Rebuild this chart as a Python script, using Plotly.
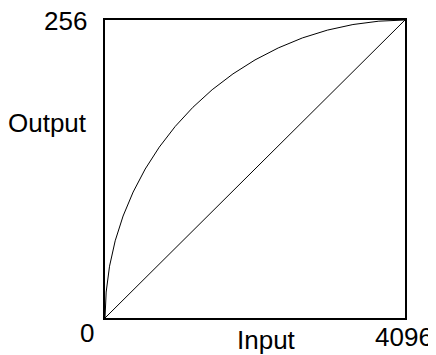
import plotly.graph_objects as go

# diagonal (identity) line
linear_in = [0, 4096]
linear_out = [0, 256]

# curved transfer function
curve_in = [0, 16, 62, 139, 247, 384, 549, 741, 959, 1200, 1463, 1747, 2048,
            2365, 2695, 3036, 3385, 3739, 4096]
curve_out = [0, 22.3, 44.5, 66.3, 87.6, 108.2, 128.0, 146.8, 164.6, 181.0, 196.1,
             209.7, 221.7, 232.0, 240.6, 247.3, 252.1, 255.0, 256]

FONT = "Liberation Sans, Arial, sans-serif"

fig = go.Figure()

fig.add_trace(go.Scatter(x=linear_in, y=linear_out, mode="lines",
                         line=dict(color="black", width=1)))
fig.add_trace(go.Scatter(x=curve_in, y=curve_out, mode="lines",
                         line=dict(color="black", width=1)))

# corner / axis labels
labels = [
    ("256", -0.053, 0.997, "right"),
    ("Output", -0.053, 0.653, "right"),
    ("0", -0.06, -0.05, "center"),
    ("Input", 0.537, -0.073, "center"),
    ("4096", 0.995, -0.063, "center"),
]
for text, x, y, anchor in labels:
    fig.add_annotation(text=text, x=x, y=y, xref="paper", yref="paper",
                       xanchor=anchor, yanchor="middle", showarrow=False,
                       font=dict(family=FONT, size=26, color="black"))

axis = dict(showline=True, mirror=True, linecolor="black", linewidth=2,
            showgrid=False, zeroline=False, showticklabels=False, ticks="")
fig.update_xaxes(range=[0, 4096], **axis)
fig.update_yaxes(range=[0, 256], **axis)

# page body adds an 8px margin, so the figure is shrunk by that much
fig.update_layout(width=428, height=347, showlegend=False,
                  margin=dict(l=97, r=31, t=10, b=37),
                  plot_bgcolor="white", paper_bgcolor="white")

fig.write_html("out.html")
